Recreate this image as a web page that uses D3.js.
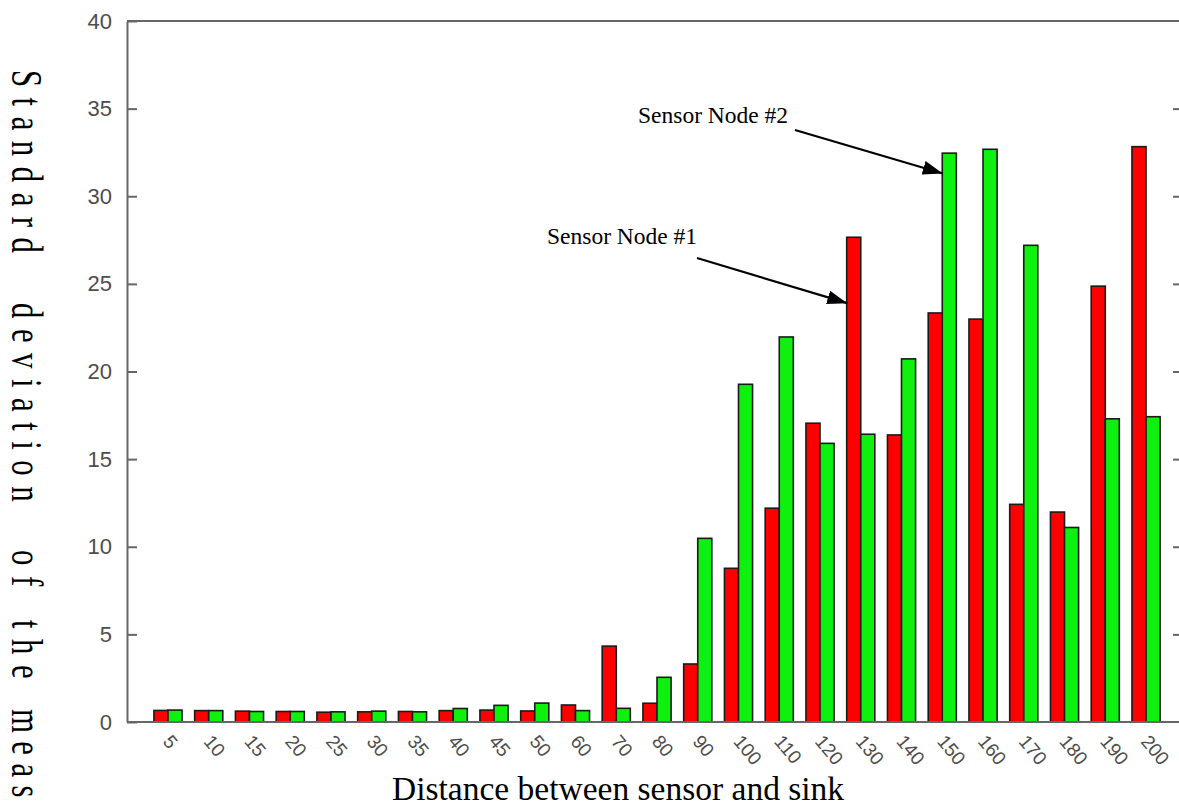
<!DOCTYPE html>
<html>
<head>
<meta charset="utf-8">
<script src="https://cdn.jsdelivr.net/npm/d3@7"></script>
<style>
  html, body { margin: 0; padding: 0; background: #fff; }
  svg { display: block; }
</style>
</head>
<body>
<script>
// ---------------- data ----------------
const categories = ["5","10","15","20","25","30","35","40","45","50","60","70","80","90","100","110","120","130","140","150","160","170","180","190","200"];
const node1 = [0.66,0.65,0.62,0.6,0.56,0.58,0.6,0.65,0.68,0.63,0.97,4.33,1.07,3.31,8.77,12.2,17.05,27.66,16.38,23.34,22.99,12.42,11.98,24.87,32.83];
const node2 = [0.68,0.65,0.6,0.6,0.58,0.62,0.58,0.77,0.95,1.08,0.65,0.78,2.55,10.48,19.27,21.97,15.9,16.42,20.72,32.46,32.68,27.2,11.1,17.3,17.42];
const seriesNames = ["Sensor Node #1", "Sensor Node #2"];
const seriesColors = ["#ff0000", "#0ef00e"];
const yTicks = [0, 5, 10, 15, 20, 25, 30, 35, 40];
const xTitle = "Distance between sensor and sink";
const yTitleWords = ["Standard", "deviation", "of", "the", "meas"];
// annotation: which series / category each arrow points to, and the value level of the tip
const annotations = [
  { label: "Sensor Node #1", series: 0, cat: "130", at: 23.9, tx: 547, ty: 244, sx: 697, sy: 258 },
  { label: "Sensor Node #2", series: 1, cat: "150", at: 31.3, tx: 638, ty: 123, sx: 795, sy: 130 }
];

// ---------------- layout ----------------
const W = 1179, H = 808;
const mLeft = 127, mRight = 1181, mTop = 21, mBottom = 722;

const svg = d3.select("body").append("svg").attr("width", W).attr("height", H);
svg.append("rect").attr("width", W).attr("height", H).attr("fill", "#fff");

const x = d3.scaleBand().domain(categories).range([147.6, 1166.4]).paddingInner(0.31).paddingOuter(0.155);
const sub = d3.scaleBand().domain([0, 1]).range([0, x.bandwidth()]);
const y = d3.scaleLinear().domain([0, 40]).range([mBottom, mTop]);

// frame lines
const axisColor = "#666";
svg.append("line").attr("x1", mLeft).attr("x2", mRight).attr("y1", mTop).attr("y2", mTop)
  .attr("stroke", axisColor).attr("stroke-width", 2);

// bars
const rows = categories.map((c, i) => ({ cat: c, vals: [node1[i], node2[i]] }));
const g = svg.append("g");
rows.forEach(r => {
  r.vals.forEach((v, s) => {
    g.append("rect")
      .attr("x", x(r.cat) + sub(s))
      .attr("y", y(v))
      .attr("width", sub.bandwidth())
      .attr("height", y(0) - y(v))
      .attr("fill", seriesColors[s])
      .attr("stroke", "#1a1a1a")
      .attr("stroke-width", 1.6);
  });
});

// bottom axis line
svg.append("line").attr("x1", mLeft).attr("x2", mRight).attr("y1", mBottom).attr("y2", mBottom)
  .attr("stroke", axisColor).attr("stroke-width", 2);

// left axis
const yAxis = svg.append("g").attr("transform", `translate(${mLeft},0)`)
  .call(d3.axisLeft(y).tickValues(yTicks).tickSizeInner(-10).tickSizeOuter(0).tickPadding(15));
yAxis.select(".domain").attr("stroke", axisColor).attr("stroke-width", 2);
yAxis.selectAll(".tick line").attr("stroke", axisColor).attr("stroke-width", 2);
yAxis.selectAll(".tick text").attr("fill", "#4d4d4d").style("font-family", "'Liberation Sans', Arial, sans-serif").style("font-size", "22px");

// right axis (ticks only)
const yAxisR = svg.append("g").attr("transform", `translate(${mRight},0)`)
  .call(d3.axisRight(y).tickValues(yTicks.slice(1, -1)).tickSizeInner(-8).tickSizeOuter(0).tickFormat(""));
yAxisR.select(".domain").attr("stroke", axisColor).attr("stroke-width", 2);
yAxisR.selectAll(".tick line").attr("stroke", axisColor).attr("stroke-width", 2);

// x axis labels
const xAxis = svg.append("g").attr("transform", `translate(0,${mBottom})`)
  .call(d3.axisBottom(x).tickSize(0));
xAxis.select(".domain").remove();
xAxis.selectAll(".tick text")
  .attr("x", -6).attr("y", 20).attr("dy", 0)
  .attr("text-anchor", "start")
  .attr("transform", "rotate(50,-6,20)")
  .attr("fill", "#4d4d4d")
  .style("font-family", "'Liberation Sans', Arial, sans-serif")
  .style("font-size", "19px");

// x title
svg.append("text").attr("x", 392).attr("y", 800)
  .style("font-family", "'Liberation Serif', 'Times New Roman', serif")
  .style("font-size", "33.5px").attr("fill", "#000").text(xTitle);

// y title (rotated, letter-spaced, condensed)
const sc = 0.7;
const wordStarts = [70, 303, 550, 620, 709];
const wordSpacing = [15, 15, 15, 15, 12];
const yt = svg.append("text")
  .attr("transform", `translate(12,0) rotate(90) scale(${sc},1)`)
  .style("font-family", "'Liberation Serif', 'Times New Roman', serif")
  .style("font-size", "44px")
  .attr("fill", "#000");
yTitleWords.forEach((w, i) => {
  yt.append("tspan").attr("x", wordStarts[i] / sc).attr("y", 0)
    .style("letter-spacing", wordSpacing[i] + "px").text(w);
});

// annotations
const defs = svg.append("defs");
defs.append("marker").attr("id", "ah")
  .attr("viewBox", "0 0 20 14").attr("refX", 20).attr("refY", 7)
  .attr("markerUnits", "userSpaceOnUse").attr("markerWidth", 20).attr("markerHeight", 14)
  .attr("orient", "auto")
  .append("path").attr("d", "M0,0 L20,7 L0,14 Z").attr("fill", "#000");

annotations.forEach(a => {
  const tipX = x(a.cat) + sub(a.series) + 0.5;
  const tipY = y(a.at);
  svg.append("line").attr("x1", a.sx).attr("y1", a.sy).attr("x2", tipX).attr("y2", tipY)
    .attr("stroke", "#000").attr("stroke-width", 2.2).attr("marker-end", "url(#ah)");
  svg.append("text").attr("x", a.tx).attr("y", a.ty)
    .style("font-family", "'Liberation Serif', 'Times New Roman', serif")
    .style("font-size", "23.5px").attr("fill", "#000").text(a.label);
});
</script>
</body>
</html>
